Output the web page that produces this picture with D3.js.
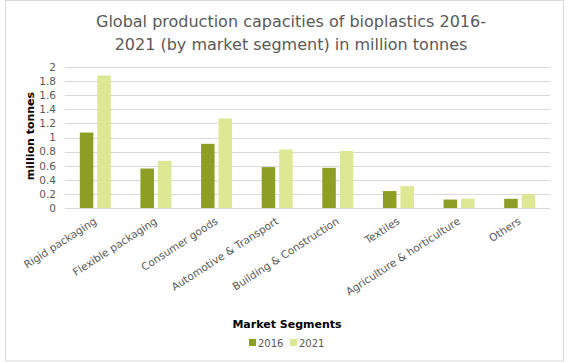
<!DOCTYPE html>
<html>
<head>
<meta charset="utf-8">
<script src="https://cdn.jsdelivr.net/npm/d3@7"></script>
<style>
  body { margin: 0; background: #fff; }
  svg { display: block; }
  text { font-family: "DejaVu Sans", sans-serif; }
</style>
</head>
<body>
<div id="chart"></div>
<script>
// chart values
const segments = ["Rigid packaging", "Flexible packaging", "Consumer goods", "Automotive & Transport",
  "Building & Construction", "Textiles", "Agriculture & horticulture", "Others"];
const years = ["2016", "2021"];
const values2016 = [1.07, 0.56, 0.91, 0.58, 0.57, 0.24, 0.12, 0.13];
const values2021 = [1.88, 0.67, 1.27, 0.83, 0.81, 0.31, 0.13, 0.20];
const yTicks = [0, 0.2, 0.4, 0.6, 0.8, 1, 1.2, 1.4, 1.6, 1.8, 2];
const titleLines = ["Global production capacities of bioplastics 2016-", "2021 (by market segment) in million tonnes"];

const colors = { "2016": "#8c9e24", "2021": "#dde894" };

let w = 568, h = 362;
let margin = { left: 65, right: 18, top: 67, bottom: 154 };

let svg = d3.select("#chart").append("svg")
  .attr("width", w)
  .attr("height", h);

// outer chart frame
svg.append("rect")
  .attr("x", 5.5).attr("y", 0.5)
  .attr("width", 558).attr("height", 360.5)
  .attr("fill", "none")
  .attr("stroke", "#d9d9d9")
  .attr("stroke-width", 1);

let x0 = d3.scaleBand()
  .domain(segments)
  .range([margin.left, w - margin.right])
  .paddingInner(0)
  .paddingOuter(0);

let y = d3.scaleLinear()
  .domain([0, 2])
  .range([h - margin.bottom, margin.top]);

let rows = segments.map((s, i) => ({ segment: s, "2016": values2016[i], "2021": values2021[i] }));

// gridlines
svg.append("g")
  .selectAll("line")
  .data(yTicks)
  .enter().append("line")
  .attr("x1", margin.left)
  .attr("x2", w - margin.right)
  .attr("y1", d => Math.round(y(d)) + 0.5)
  .attr("y2", d => Math.round(y(d)) + 0.5)
  .attr("stroke", "#d9d9d9")
  .attr("stroke-width", 1);

// y tick labels
let yAxis = svg.append("g")
  .attr("transform", "translate(" + (margin.left - 9) + ",0)")
  .call(d3.axisLeft(y).tickValues(yTicks).tickSize(0).tickPadding(0).tickFormat(d3.format("~g")));
yAxis.select(".domain").remove();
yAxis.selectAll("text")
  .attr("fill", "#595959")
  .style("font-size", "10.5px")
  .style("font-family", "DejaVu Sans, sans-serif");

// bars
let barW = 13.5, gap = 4;
let groups = svg.append("g")
  .selectAll("g")
  .data(rows)
  .enter().append("g")
  .attr("transform", d => "translate(" + (x0(d.segment) + x0.bandwidth() / 2) + ",0)");

groups.selectAll("rect")
  .data(d => years.map((yr, j) => ({ yr: yr, v: d[yr], j: j })))
  .enter().append("rect")
  .attr("x", d => d.j === 0 ? -gap / 2 - barW : gap / 2)
  .attr("y", d => y(d.v))
  .attr("width", barW)
  .attr("height", d => y(0) - y(d.v))
  .attr("fill", d => colors[d.yr]);

// category labels, rotated
svg.append("g")
  .selectAll("text")
  .data(segments)
  .enter().append("text")
  .attr("transform", d => "translate(" + (x0(d) + x0.bandwidth() / 2 + 2) + "," + (y(0) + 15) + ") rotate(-33)")
  .attr("text-anchor", "end")
  .attr("fill", "#595959")
  .style("font-size", "10.5px")
  .text(d => d);

// title
svg.append("g")
  .selectAll("text")
  .data(titleLines)
  .enter().append("text")
  .attr("x", 291)
  .attr("y", (d, i) => 27 + i * 23)
  .attr("text-anchor", "middle")
  .attr("fill", "#595959")
  .style("font-size", "16px")
  .text(d => d);

// y axis title
svg.append("text")
  .attr("transform", "translate(34,136) rotate(-90)")
  .attr("text-anchor", "middle")
  .attr("fill", "#000")
  .style("font-size", "11px")
  .style("font-weight", "bold")
  .text("million tonnes");

// x axis title
svg.append("text")
  .attr("x", 287)
  .attr("y", 328)
  .attr("text-anchor", "middle")
  .attr("fill", "#000")
  .style("font-size", "11px")
  .style("font-weight", "bold")
  .text("Market Segments");

// legend
let legend = svg.append("g")
  .selectAll("g")
  .data(years)
  .enter().append("g")
  .attr("transform", (d, i) => "translate(" + (249 + i * 41) + ",339)");

legend.append("rect")
  .attr("width", 7)
  .attr("height", 7)
  .attr("fill", d => colors[d]);

legend.append("text")
  .attr("x", 9)
  .attr("y", 7.5)
  .attr("fill", "#595959")
  .style("font-size", "10px")
  .text(d => d);
</script>
</body>
</html>
